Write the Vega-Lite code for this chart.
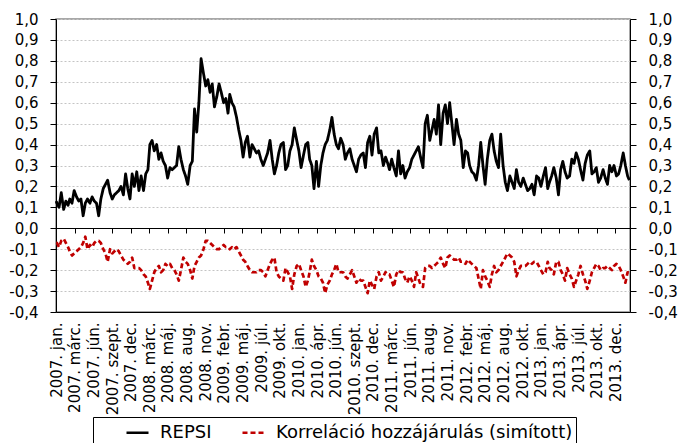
{
"$schema":"https://vega.github.io/schema/vega-lite/v6.json",
"width":574,"height":293,
"autosize":"none",
"padding":{"left":56,"top":19,"right":52,"bottom":131},
"background":"white",
"config":{
 "view":{"stroke":"#8c8c8c","strokeWidth":1.5},
 "axis":{"labelFont":"DejaVu Sans","labelFontSize":15,"labelColor":"#000000","title":null},
 "legend":{"orient":"none","legendX":37,"legendY":398,"direction":"horizontal","strokeColor":"#000000","strokeWidth":1,"padding":3,"symbolOffset":29,"labelOffset":10,"columnPadding":0,"symbolSize":484,"symbolType":"stroke","symbolStrokeWidth":2.5,"labelFont":"DejaVu Sans","labelFontSize":18,"labelColor":"#000000","labelLimit":0}
},
"data":{"values":[
{"d":"2007-01-02","REPSI":0.13,"korr":-0.07},
{"d":"2007-01-05","REPSI":0.12,"korr":-0.07},{"d":"2007-01-15","REPSI":0.10,"korr":-0.09},{"d":"2007-01-25","REPSI":0.17,"korr":-0.06},
{"d":"2007-02-05","REPSI":0.09,"korr":-0.05},{"d":"2007-02-15","REPSI":0.13,"korr":-0.07},{"d":"2007-02-25","REPSI":0.11,"korr":-0.09},
{"d":"2007-03-05","REPSI":0.14,"korr":-0.11},{"d":"2007-03-15","REPSI":0.12,"korr":-0.13},{"d":"2007-03-25","REPSI":0.18,"korr":-0.12},
{"d":"2007-04-05","REPSI":0.15,"korr":-0.11},{"d":"2007-04-15","REPSI":0.13,"korr":-0.10},{"d":"2007-04-25","REPSI":0.14,"korr":-0.09},
{"d":"2007-05-05","REPSI":0.06,"korr":-0.07},{"d":"2007-05-15","REPSI":0.12,"korr":-0.04},{"d":"2007-05-25","REPSI":0.14,"korr":-0.10},
{"d":"2007-06-05","REPSI":0.12,"korr":-0.08},{"d":"2007-06-15","REPSI":0.15,"korr":-0.09},{"d":"2007-06-25","REPSI":0.13,"korr":-0.07},
{"d":"2007-07-05","REPSI":0.12,"korr":-0.06},{"d":"2007-07-15","REPSI":0.06,"korr":-0.06},{"d":"2007-07-25","REPSI":0.14,"korr":-0.07},
{"d":"2007-08-05","REPSI":0.19,"korr":-0.10},{"d":"2007-08-15","REPSI":0.21,"korr":-0.12},{"d":"2007-08-25","REPSI":0.23,"korr":-0.16},
{"d":"2007-09-05","REPSI":0.17,"korr":-0.10},{"d":"2007-09-15","REPSI":0.14,"korr":-0.12},{"d":"2007-09-25","REPSI":0.16,"korr":-0.11},
{"d":"2007-10-05","REPSI":0.17,"korr":-0.10},{"d":"2007-10-15","REPSI":0.18,"korr":-0.11},{"d":"2007-10-25","REPSI":0.20,"korr":-0.13},
{"d":"2007-11-05","REPSI":0.16,"korr":-0.15},{"d":"2007-11-15","REPSI":0.26,"korr":-0.16},{"d":"2007-11-25","REPSI":0.19,"korr":-0.17},
{"d":"2007-12-05","REPSI":0.14,"korr":-0.16},{"d":"2007-12-15","REPSI":0.26,"korr":-0.14},{"d":"2007-12-25","REPSI":0.20,"korr":-0.19},
{"d":"2008-01-05","REPSI":0.27,"korr":-0.19},{"d":"2008-01-15","REPSI":0.18,"korr":-0.19},{"d":"2008-01-25","REPSI":0.25,"korr":-0.20},
{"d":"2008-02-05","REPSI":0.18,"korr":-0.22},{"d":"2008-02-15","REPSI":0.26,"korr":-0.23},{"d":"2008-02-25","REPSI":0.28,"korr":-0.26},
{"d":"2008-03-05","REPSI":0.40,"korr":-0.29},{"d":"2008-03-15","REPSI":0.42,"korr":-0.25},{"d":"2008-03-25","REPSI":0.37,"korr":-0.21},
{"d":"2008-04-05","REPSI":0.40,"korr":-0.19},{"d":"2008-04-15","REPSI":0.33,"korr":-0.18},{"d":"2008-04-25","REPSI":0.36,"korr":-0.21},
{"d":"2008-05-05","REPSI":0.32,"korr":-0.20},{"d":"2008-05-15","REPSI":0.30,"korr":-0.17},{"d":"2008-05-25","REPSI":0.24,"korr":-0.18},
{"d":"2008-06-05","REPSI":0.29,"korr":-0.17},{"d":"2008-06-15","REPSI":0.28,"korr":-0.19},{"d":"2008-06-25","REPSI":0.29,"korr":-0.20},
{"d":"2008-07-05","REPSI":0.30,"korr":-0.22},{"d":"2008-07-15","REPSI":0.39,"korr":-0.25},{"d":"2008-07-25","REPSI":0.33,"korr":-0.20},
{"d":"2008-08-05","REPSI":0.28,"korr":-0.14},{"d":"2008-08-15","REPSI":0.25,"korr":-0.16},{"d":"2008-08-25","REPSI":0.21,"korr":-0.17},
{"d":"2008-09-05","REPSI":0.30,"korr":-0.20},{"d":"2008-09-15","REPSI":0.32,"korr":-0.24},{"d":"2008-09-25","REPSI":0.57,"korr":-0.18},
{"d":"2008-10-05","REPSI":0.46,"korr":-0.16},{"d":"2008-10-15","REPSI":0.60,"korr":-0.14},{"d":"2008-10-25","REPSI":0.81,"korr":-0.13},
{"d":"2008-11-05","REPSI":0.74,"korr":-0.10},{"d":"2008-11-15","REPSI":0.68,"korr":-0.06},{"d":"2008-11-25","REPSI":0.71,"korr":-0.06},
{"d":"2008-12-05","REPSI":0.65,"korr":-0.07},{"d":"2008-12-15","REPSI":0.69,"korr":-0.08},{"d":"2008-12-25","REPSI":0.58,"korr":-0.09},
{"d":"2009-01-05","REPSI":0.63,"korr":-0.10},{"d":"2009-01-15","REPSI":0.69,"korr":-0.10},{"d":"2009-01-25","REPSI":0.65,"korr":-0.09},
{"d":"2009-02-05","REPSI":0.60,"korr":-0.08},{"d":"2009-02-15","REPSI":0.62,"korr":-0.09},{"d":"2009-02-25","REPSI":0.55,"korr":-0.09},
{"d":"2009-03-05","REPSI":0.64,"korr":-0.10},{"d":"2009-03-15","REPSI":0.60,"korr":-0.09},{"d":"2009-03-25","REPSI":0.58,"korr":-0.10},
{"d":"2009-04-05","REPSI":0.53,"korr":-0.09},{"d":"2009-04-15","REPSI":0.47,"korr":-0.11},{"d":"2009-04-25","REPSI":0.42,"korr":-0.13},
{"d":"2009-05-05","REPSI":0.34,"korr":-0.15},{"d":"2009-05-15","REPSI":0.41,"korr":-0.16},{"d":"2009-05-25","REPSI":0.44,"korr":-0.18},
{"d":"2009-06-05","REPSI":0.34,"korr":-0.20},{"d":"2009-06-15","REPSI":0.40,"korr":-0.21},{"d":"2009-06-25","REPSI":0.38,"korr":-0.21},
{"d":"2009-07-05","REPSI":0.36,"korr":-0.21},{"d":"2009-07-15","REPSI":0.37,"korr":-0.20},{"d":"2009-07-25","REPSI":0.33,"korr":-0.20},
{"d":"2009-08-05","REPSI":0.30,"korr":-0.21},{"d":"2009-08-15","REPSI":0.33,"korr":-0.23},{"d":"2009-08-25","REPSI":0.36,"korr":-0.20},
{"d":"2009-09-05","REPSI":0.42,"korr":-0.17},{"d":"2009-09-15","REPSI":0.33,"korr":-0.15},{"d":"2009-09-25","REPSI":0.26,"korr":-0.14},
{"d":"2009-10-05","REPSI":0.30,"korr":-0.21},{"d":"2009-10-15","REPSI":0.36,"korr":-0.23},{"d":"2009-10-25","REPSI":0.40,"korr":-0.24},
{"d":"2009-11-05","REPSI":0.41,"korr":-0.25},{"d":"2009-11-15","REPSI":0.28,"korr":-0.19},{"d":"2009-11-25","REPSI":0.30,"korr":-0.21},
{"d":"2009-12-05","REPSI":0.37,"korr":-0.23},{"d":"2009-12-15","REPSI":0.40,"korr":-0.29},{"d":"2009-12-25","REPSI":0.48,"korr":-0.22},
{"d":"2010-01-05","REPSI":0.42,"korr":-0.18},{"d":"2010-01-15","REPSI":0.37,"korr":-0.17},{"d":"2010-01-25","REPSI":0.29,"korr":-0.20},
{"d":"2010-02-05","REPSI":0.35,"korr":-0.23},{"d":"2010-02-15","REPSI":0.40,"korr":-0.28},{"d":"2010-02-25","REPSI":0.41,"korr":-0.25},
{"d":"2010-03-05","REPSI":0.33,"korr":-0.21},{"d":"2010-03-15","REPSI":0.30,"korr":-0.15},{"d":"2010-03-25","REPSI":0.19,"korr":-0.18},
{"d":"2010-04-05","REPSI":0.32,"korr":-0.20},{"d":"2010-04-15","REPSI":0.20,"korr":-0.23},{"d":"2010-04-25","REPSI":0.30,"korr":-0.24},
{"d":"2010-05-05","REPSI":0.36,"korr":-0.26},{"d":"2010-05-15","REPSI":0.40,"korr":-0.31},{"d":"2010-05-25","REPSI":0.42,"korr":-0.27},
{"d":"2010-06-05","REPSI":0.47,"korr":-0.25},{"d":"2010-06-15","REPSI":0.53,"korr":-0.22},{"d":"2010-06-25","REPSI":0.45,"korr":-0.20},
{"d":"2010-07-05","REPSI":0.40,"korr":-0.17},{"d":"2010-07-15","REPSI":0.38,"korr":-0.21},{"d":"2010-07-25","REPSI":0.43,"korr":-0.21},
{"d":"2010-08-05","REPSI":0.40,"korr":-0.21},{"d":"2010-08-15","REPSI":0.33,"korr":-0.23},{"d":"2010-08-25","REPSI":0.36,"korr":-0.24},
{"d":"2010-09-05","REPSI":0.38,"korr":-0.22},{"d":"2010-09-15","REPSI":0.33,"korr":-0.20},{"d":"2010-09-25","REPSI":0.30,"korr":-0.23},
{"d":"2010-10-05","REPSI":0.27,"korr":-0.26},{"d":"2010-10-15","REPSI":0.33,"korr":-0.24},{"d":"2010-10-25","REPSI":0.35,"korr":-0.25},
{"d":"2010-11-05","REPSI":0.36,"korr":-0.25},{"d":"2010-11-15","REPSI":0.29,"korr":-0.28},{"d":"2010-11-25","REPSI":0.41,"korr":-0.31},
{"d":"2010-12-05","REPSI":0.44,"korr":-0.25},{"d":"2010-12-15","REPSI":0.35,"korr":-0.27},{"d":"2010-12-25","REPSI":0.45,"korr":-0.29},
{"d":"2011-01-05","REPSI":0.48,"korr":-0.23},{"d":"2011-01-15","REPSI":0.36,"korr":-0.21},{"d":"2011-01-25","REPSI":0.37,"korr":-0.25},
{"d":"2011-02-05","REPSI":0.30,"korr":-0.23},{"d":"2011-02-15","REPSI":0.34,"korr":-0.21},{"d":"2011-02-25","REPSI":0.31,"korr":-0.22},
{"d":"2011-03-05","REPSI":0.28,"korr":-0.22},{"d":"2011-03-15","REPSI":0.33,"korr":-0.25},{"d":"2011-03-25","REPSI":0.29,"korr":-0.28},
{"d":"2011-04-05","REPSI":0.25,"korr":-0.22},{"d":"2011-04-15","REPSI":0.37,"korr":-0.20},{"d":"2011-04-25","REPSI":0.26,"korr":-0.21},
{"d":"2011-05-05","REPSI":0.30,"korr":-0.21},{"d":"2011-05-15","REPSI":0.24,"korr":-0.24},{"d":"2011-05-25","REPSI":0.27,"korr":-0.26},
{"d":"2011-06-05","REPSI":0.29,"korr":-0.23},{"d":"2011-06-15","REPSI":0.33,"korr":-0.25},{"d":"2011-06-25","REPSI":0.35,"korr":-0.28},
{"d":"2011-07-05","REPSI":0.37,"korr":-0.21},{"d":"2011-07-15","REPSI":0.39,"korr":-0.24},{"d":"2011-07-25","REPSI":0.34,"korr":-0.27},
{"d":"2011-08-05","REPSI":0.29,"korr":-0.28},{"d":"2011-08-15","REPSI":0.50,"korr":-0.19},{"d":"2011-08-25","REPSI":0.54,"korr":-0.18},
{"d":"2011-09-05","REPSI":0.42,"korr":-0.18},{"d":"2011-09-15","REPSI":0.47,"korr":-0.19},{"d":"2011-09-25","REPSI":0.52,"korr":-0.18},
{"d":"2011-10-05","REPSI":0.45,"korr":-0.17},{"d":"2011-10-15","REPSI":0.59,"korr":-0.16},{"d":"2011-10-25","REPSI":0.40,"korr":-0.14},
{"d":"2011-11-05","REPSI":0.55,"korr":-0.17},{"d":"2011-11-15","REPSI":0.59,"korr":-0.19},{"d":"2011-11-25","REPSI":0.50,"korr":-0.14},
{"d":"2011-12-05","REPSI":0.60,"korr":-0.13},{"d":"2011-12-15","REPSI":0.50,"korr":-0.14},{"d":"2011-12-25","REPSI":0.40,"korr":-0.15},
{"d":"2012-01-05","REPSI":0.52,"korr":-0.15},{"d":"2012-01-15","REPSI":0.45,"korr":-0.14},{"d":"2012-01-25","REPSI":0.42,"korr":-0.16},
{"d":"2012-02-05","REPSI":0.29,"korr":-0.16},{"d":"2012-02-15","REPSI":0.37,"korr":-0.17},{"d":"2012-02-25","REPSI":0.36,"korr":-0.15},
{"d":"2012-03-05","REPSI":0.30,"korr":-0.16},{"d":"2012-03-15","REPSI":0.27,"korr":-0.17},{"d":"2012-03-25","REPSI":0.26,"korr":-0.18},
{"d":"2012-04-05","REPSI":0.23,"korr":-0.19},{"d":"2012-04-15","REPSI":0.30,"korr":-0.24},{"d":"2012-04-25","REPSI":0.41,"korr":-0.29},
{"d":"2012-05-05","REPSI":0.30,"korr":-0.20},{"d":"2012-05-15","REPSI":0.21,"korr":-0.23},{"d":"2012-05-25","REPSI":0.33,"korr":-0.25},
{"d":"2012-06-05","REPSI":0.42,"korr":-0.28},{"d":"2012-06-15","REPSI":0.45,"korr":-0.22},{"d":"2012-06-25","REPSI":0.37,"korr":-0.18},
{"d":"2012-07-05","REPSI":0.32,"korr":-0.21},{"d":"2012-07-15","REPSI":0.29,"korr":-0.20},{"d":"2012-07-25","REPSI":0.45,"korr":-0.18},
{"d":"2012-08-05","REPSI":0.30,"korr":-0.16},{"d":"2012-08-15","REPSI":0.22,"korr":-0.14},{"d":"2012-08-25","REPSI":0.18,"korr":-0.12},
{"d":"2012-09-05","REPSI":0.25,"korr":-0.13},{"d":"2012-09-15","REPSI":0.22,"korr":-0.14},{"d":"2012-09-25","REPSI":0.19,"korr":-0.16},
{"d":"2012-10-05","REPSI":0.28,"korr":-0.23},{"d":"2012-10-15","REPSI":0.22,"korr":-0.20},{"d":"2012-10-25","REPSI":0.20,"korr":-0.18},
{"d":"2012-11-05","REPSI":0.24,"korr":-0.18},{"d":"2012-11-15","REPSI":0.21,"korr":-0.18},{"d":"2012-11-25","REPSI":0.18,"korr":-0.17},
{"d":"2012-12-05","REPSI":0.19,"korr":-0.16},{"d":"2012-12-15","REPSI":0.21,"korr":-0.17},{"d":"2012-12-25","REPSI":0.16,"korr":-0.16},
{"d":"2013-01-05","REPSI":0.25,"korr":-0.16},{"d":"2013-01-15","REPSI":0.24,"korr":-0.18},{"d":"2013-01-25","REPSI":0.20,"korr":-0.20},
{"d":"2013-02-05","REPSI":0.25,"korr":-0.22},{"d":"2013-02-15","REPSI":0.29,"korr":-0.21},{"d":"2013-02-25","REPSI":0.19,"korr":-0.16},
{"d":"2013-03-05","REPSI":0.22,"korr":-0.19},{"d":"2013-03-15","REPSI":0.25,"korr":-0.20},{"d":"2013-03-25","REPSI":0.29,"korr":-0.22},
{"d":"2013-04-05","REPSI":0.24,"korr":-0.16},{"d":"2013-04-15","REPSI":0.16,"korr":-0.16},{"d":"2013-04-25","REPSI":0.28,"korr":-0.20},
{"d":"2013-05-05","REPSI":0.32,"korr":-0.22},{"d":"2013-05-15","REPSI":0.27,"korr":-0.25},{"d":"2013-05-25","REPSI":0.24,"korr":-0.19},
{"d":"2013-06-05","REPSI":0.25,"korr":-0.22},{"d":"2013-06-15","REPSI":0.33,"korr":-0.24},{"d":"2013-06-25","REPSI":0.31,"korr":-0.28},
{"d":"2013-07-05","REPSI":0.36,"korr":-0.25},{"d":"2013-07-15","REPSI":0.33,"korr":-0.22},{"d":"2013-07-25","REPSI":0.28,"korr":-0.18},
{"d":"2013-08-05","REPSI":0.23,"korr":-0.22},{"d":"2013-08-15","REPSI":0.31,"korr":-0.25},{"d":"2013-08-25","REPSI":0.35,"korr":-0.29},
{"d":"2013-09-05","REPSI":0.37,"korr":-0.25},{"d":"2013-09-15","REPSI":0.26,"korr":-0.21},{"d":"2013-09-25","REPSI":0.27,"korr":-0.19},
{"d":"2013-10-05","REPSI":0.29,"korr":-0.17},{"d":"2013-10-15","REPSI":0.22,"korr":-0.18},{"d":"2013-10-25","REPSI":0.24,"korr":-0.20},
{"d":"2013-11-05","REPSI":0.28,"korr":-0.19},{"d":"2013-11-15","REPSI":0.24,"korr":-0.19},{"d":"2013-11-25","REPSI":0.21,"korr":-0.18},
{"d":"2013-12-05","REPSI":0.30,"korr":-0.19},{"d":"2013-12-15","REPSI":0.27,"korr":-0.20},{"d":"2013-12-25","REPSI":0.30,"korr":-0.18},
{"d":"2014-01-05","REPSI":0.25,"korr":-0.17},{"d":"2014-01-15","REPSI":0.26,"korr":-0.18},{"d":"2014-01-25","REPSI":0.30,"korr":-0.20},
{"d":"2014-02-05","REPSI":0.36,"korr":-0.23},{"d":"2014-02-15","REPSI":0.30,"korr":-0.26},{"d":"2014-02-25","REPSI":0.25,"korr":-0.21},
{"d":"2014-03-05","REPSI":0.23,"korr":-0.21}
]},
"transform":[{"fold":["REPSI","korr"],"as":["key","value"]}],
"layer":[
{
 "transform":[{"filter":"datum.key == 'korr'"}],
 "mark":{"type":"line","strokeWidth":2.7,"strokeJoin":"round"},
 "encoding":{
  "x":{"field":"d","type":"temporal",
   "scale":{"type":"utc","domain":[{"year":2007,"month":1,"date":1,"utc":true},{"year":2014,"month":3,"date":8,"utc":true}]},
   "axis":{"orient":"bottom","offset":-84,"labels":false,"ticks":true,"tickSize":5,"tickColor":"#000000","tickWidth":1,"domain":true,"domainColor":"#000000","domainWidth":1,"grid":false,"title":null,
    "values":[{"year":2007,"month":1,"date":1,"utc":true},{"year":2007,"month":3,"date":27,"utc":true},{"year":2007,"month":6,"date":20,"utc":true},{"year":2007,"month":9,"date":14,"utc":true},{"year":2007,"month":12,"date":8,"utc":true},{"year":2008,"month":3,"date":2,"utc":true},{"year":2008,"month":5,"date":26,"utc":true},{"year":2008,"month":8,"date":19,"utc":true},{"year":2008,"month":11,"date":13,"utc":true},{"year":2009,"month":2,"date":6,"utc":true},{"year":2009,"month":5,"date":2,"utc":true},{"year":2009,"month":7,"date":26,"utc":true},{"year":2009,"month":10,"date":19,"utc":true},{"year":2010,"month":1,"date":13,"utc":true},{"year":2010,"month":4,"date":8,"utc":true},{"year":2010,"month":6,"date":30,"utc":true},{"year":2010,"month":9,"date":25,"utc":true},{"year":2010,"month":12,"date":19,"utc":true},{"year":2011,"month":3,"date":15,"utc":true},{"year":2011,"month":6,"date":8,"utc":true},{"year":2011,"month":8,"date":31,"utc":true},{"year":2011,"month":11,"date":25,"utc":true},{"year":2012,"month":2,"date":18,"utc":true},{"year":2012,"month":5,"date":14,"utc":true},{"year":2012,"month":8,"date":7,"utc":true},{"year":2012,"month":10,"date":31,"utc":true},{"year":2013,"month":1,"date":24,"utc":true},{"year":2013,"month":4,"date":19,"utc":true},{"year":2013,"month":7,"date":14,"utc":true},{"year":2013,"month":10,"date":7,"utc":true},{"year":2013,"month":12,"date":31,"utc":true}]}},
  "y":{"field":"value","type":"quantitative",
   "scale":{"domain":[-0.4,1.0],"nice":false,"zero":false},
   "axis":{"orient":"right","values":[-0.4,-0.3,-0.2,-0.1,0,0.1,0.2,0.3,0.4,0.5,0.6,0.7,0.8,0.9,1.0],"labelExpr":"(datum.value < -0.001 ? '-' : '') + replace(format(abs(datum.value), '.1f'), '.', ',')","grid":false,"tickSize":6,"tickColor":"#000000","domainColor":"#000000","labelPadding":12,"title":null}},
  "color":{"field":"key","type":"nominal","scale":{"domain":["REPSI","korr"],"range":["#000000","#c00000"]},"legend":{"title":null,"labelExpr":"datum.label == 'korr' ? 'Korreláció hozzájárulás (simított)' : datum.label"}},
  "strokeDash":{"field":"key","type":"nominal","scale":{"domain":["REPSI","korr"],"range":[[1,0],[5,3]]},"legend":{"title":null,"labelExpr":"datum.label == 'korr' ? 'Korreláció hozzájárulás (simított)' : datum.label"}}
 }
},
{
 "transform":[{"filter":"datum.key == 'REPSI'"}],
 "mark":{"type":"line","strokeWidth":2.8,"strokeJoin":"round"},
 "encoding":{
  "x":{"field":"d","type":"temporal",
   "scale":{"type":"utc","domain":[{"year":2007,"month":1,"date":1,"utc":true},{"year":2014,"month":3,"date":8,"utc":true}]},
   "axis":{"orient":"bottom","ticks":false,"domain":true,"domainColor":"#000000","domainWidth":1,"grid":false,"title":null,"labelAngle":270,"labelAlign":"right","labelBaseline":"middle","labelPadding":10,"labelOverlap":false,"labelBound":false,"labelFlush":false,
    "labelExpr":"utcyear(datum.value) + '. ' + ['jan.','febr.','márc.','ápr.','máj.','jún.','júl.','aug.','szept.','okt.','nov.','dec.'][utcmonth(datum.value)]",
    "values":[{"year":2007,"month":1,"date":1,"utc":true},{"year":2007,"month":3,"date":27,"utc":true},{"year":2007,"month":6,"date":20,"utc":true},{"year":2007,"month":9,"date":14,"utc":true},{"year":2007,"month":12,"date":8,"utc":true},{"year":2008,"month":3,"date":2,"utc":true},{"year":2008,"month":5,"date":26,"utc":true},{"year":2008,"month":8,"date":19,"utc":true},{"year":2008,"month":11,"date":13,"utc":true},{"year":2009,"month":2,"date":6,"utc":true},{"year":2009,"month":5,"date":2,"utc":true},{"year":2009,"month":7,"date":26,"utc":true},{"year":2009,"month":10,"date":19,"utc":true},{"year":2010,"month":1,"date":13,"utc":true},{"year":2010,"month":4,"date":8,"utc":true},{"year":2010,"month":6,"date":30,"utc":true},{"year":2010,"month":9,"date":25,"utc":true},{"year":2010,"month":12,"date":19,"utc":true},{"year":2011,"month":3,"date":15,"utc":true},{"year":2011,"month":6,"date":8,"utc":true},{"year":2011,"month":8,"date":31,"utc":true},{"year":2011,"month":11,"date":25,"utc":true},{"year":2012,"month":2,"date":18,"utc":true},{"year":2012,"month":5,"date":14,"utc":true},{"year":2012,"month":8,"date":7,"utc":true},{"year":2012,"month":10,"date":31,"utc":true},{"year":2013,"month":1,"date":24,"utc":true},{"year":2013,"month":4,"date":19,"utc":true},{"year":2013,"month":7,"date":14,"utc":true},{"year":2013,"month":10,"date":7,"utc":true},{"year":2013,"month":12,"date":31,"utc":true}]}},
  "y":{"field":"value","type":"quantitative",
   "scale":{"domain":[-0.4,1.0],"nice":false,"zero":false},
   "axis":{"orient":"left","values":[-0.4,-0.3,-0.2,-0.1,0,0.1,0.2,0.3,0.4,0.5,0.6,0.7,0.8,0.9,1.0],"labelExpr":"(datum.value < -0.001 ? '-' : '') + replace(format(abs(datum.value), '.1f'), '.', ',')","grid":true,"gridColor":"#c4c4c4","gridDash":[2,2],"gridWidth":1,"tickSize":6,"tickColor":"#000000","domainColor":"#000000","labelPadding":12,"title":null}},
  "color":{"field":"key","type":"nominal","scale":{"domain":["REPSI","korr"],"range":["#000000","#c00000"]},"legend":{"title":null,"labelExpr":"datum.label == 'korr' ? 'Korreláció hozzájárulás (simított)' : datum.label"}},
  "strokeDash":{"field":"key","type":"nominal","scale":{"domain":["REPSI","korr"],"range":[[1,0],[5,3]]},"legend":{"title":null,"labelExpr":"datum.label == 'korr' ? 'Korreláció hozzájárulás (simított)' : datum.label"}}
 }
}
],
"resolve":{"axis":{"x":"independent","y":"independent"}}
}
